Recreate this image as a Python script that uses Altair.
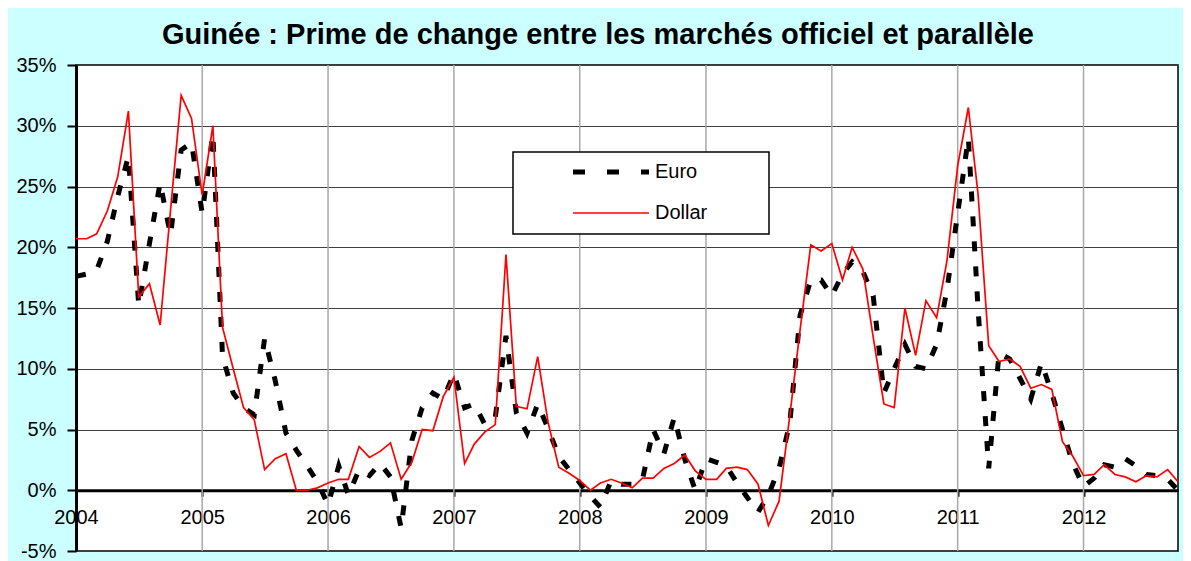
import altair as alt
import pandas as pd

# ---------------- data ----------------
months = pd.date_range("2004-01-01", periods=106, freq="MS")

euro = [
    17.6, 17.8, 18.1, 20.5, 24.2, 27.5, 15.2, 20.3, 25.3, 21.0,
    28.0, 28.6, 22.8, 29.3, 11.0, 8.0, 6.8, 6.2, 12.5, 9.0,
    4.7, 3.3, 2.0, 0.7, -1.2, 2.0, -0.4, 1.7, 1.2, 2.2,
    1.1, -3.1, 4.1, 6.8, 8.0, 7.5, 9.6, 6.8, 7.1, 5.4,
    6.0, 12.7, 6.4, 4.7, 7.1, 5.1, 2.8, 1.7, 0.6, -0.5,
    -1.4, 0.8, 0.5, 0.5, 0.9, 5.0, 3.0, 6.0, 2.5, 0.0,
    2.6, 2.3, 2.0, 0.6, -0.6, -1.8, -0.4, 1.8, 5.5, 14.4,
    17.3, 17.3, 16.0, 17.8, 18.8, 18.0, 16.0, 8.0, 10.0, 12.0,
    10.2, 10.0, 12.0, 16.5, 22.8, 29.0, 15.0, 1.8, 11.3, 10.8,
    9.2, 7.5, 10.5, 8.0, 5.0, 2.2, 0.3, 1.0, 2.1, 1.9,
    2.6, 2.0, 1.3, 1.2, 0.9, 0.0,
]

dollar = [
    20.7, 20.7, 21.1, 23.0, 25.8, 31.2, 15.9, 17.0, 13.6, 23.0,
    32.5, 30.6, 24.3, 30.0, 13.4, 10.0, 6.8, 5.8, 1.7, 2.6,
    3.0, 0.0, 0.0, 0.2, 0.6, 0.9, 0.9, 3.6, 2.7, 3.2,
    3.9, 0.9, 2.3, 5.0, 4.9, 7.7, 9.3, 2.2, 3.8, 4.8,
    5.4, 19.4, 6.9, 6.7, 11.0, 5.6, 1.9, 1.4, 0.8, 0.0,
    0.6, 0.9, 0.6, 0.2, 1.0, 1.0, 1.8, 2.2, 2.9, 1.6,
    0.9, 0.9, 1.8, 1.9, 1.7, 0.5, -2.9, -0.9, 6.1, 13.2,
    20.2, 19.7, 20.3, 17.3, 20.0, 18.2, 12.6, 7.1, 6.8, 15.0,
    11.1, 15.6, 14.2, 18.9, 26.7, 31.5, 24.4, 11.9, 10.6, 10.8,
    10.2, 8.4, 8.7, 8.3, 4.0, 2.8, 1.2, 1.3, 2.1, 1.3,
    1.1, 0.7, 1.2, 1.1, 1.7, 0.7,
]

series_names = ["Euro", "Dollar"]
grid_years = ["2005-01-01", "2006-01-01", "2007-01-01", "2008-01-01",
              "2009-01-01", "2010-01-01", "2011-01-01", "2012-01-01"]
label_years = list(range(2004, 2013))
y_ticks = [-0.05, 0.0, 0.05, 0.10, 0.15, 0.20, 0.25, 0.30, 0.35]
title_text = "Guinée : Prime de change entre les marchés officiel et parallèle"

df_euro = pd.DataFrame({"date": months, "value": [v / 100 for v in euro]})
df_dollar = pd.DataFrame({"date": months, "value": [v / 100 for v in dollar]})
df_grid = pd.DataFrame({"yr": pd.to_datetime(grid_years)})
dummy = pd.DataFrame({"k": [0]})

# ---------------- layout ----------------
W, H = 1102, 486
FONT = "Liberation Sans"
zero_offset = -(H * 0.05 / 0.40)

xscale = alt.Scale(domain=[alt.DateTime(year=2004, month=1, date=1),
                           alt.DateTime(year=2012, month=10, date=1)], nice=False)
yscale = alt.Scale(domain=[-0.05, 0.35], nice=False, zero=False)

xaxis = alt.Axis(
    values=[alt.DateTime(year=y, month=1, date=1) for y in label_years],
    format="%Y", title=None, grid=False, offset=zero_offset,
    domainColor="black", domainWidth=3, tickColor="black", tickWidth=2,
    tickSize=6, labelFont=FONT, labelFontSize=20, labelColor="black",
    labelPadding=11, labelFlush=False, labelOverlap=False,
)
yaxis = alt.Axis(
    values=y_ticks, labelExpr="round(datum.value*100) + '%'", title=None,
    grid=True, gridColor="#404040", gridWidth=1.2,
    domainColor="black", domainWidth=3, tickColor="black", tickWidth=2,
    tickSize=9, labelPadding=11, labelFont=FONT, labelFontSize=20,
    labelColor="black",
)

vgrid = alt.Chart(df_grid).mark_rule(color="#a8a8a8", strokeWidth=1.5).encode(
    x=alt.X("yr:T", scale=xscale, axis=xaxis)
)

euro_line = alt.Chart(df_euro).mark_line(
    color="black", strokeWidth=5, strokeDash=[10, 15], strokeCap="butt"
).encode(
    x=alt.X("date:T", scale=xscale, axis=xaxis),
    y=alt.Y("value:Q", scale=yscale, axis=yaxis),
)

dollar_line = alt.Chart(df_dollar).mark_line(color="#ff0000", strokeWidth=1.7).encode(
    x=alt.X("date:T", scale=xscale, axis=xaxis),
    y=alt.Y("value:Q", scale=yscale, axis=yaxis),
)

# legend box (decoration)
leg_box = alt.Chart(dummy).mark_rect(fill="white", stroke="black", strokeWidth=1.5).encode(
    x=alt.value(437), x2=alt.value(693), y=alt.value(87), y2=alt.value(169)
)
leg_euro = alt.Chart(dummy).mark_rule(
    color="black", strokeWidth=5, strokeDash=[12, 22], strokeCap="butt"
).encode(x=alt.value(497), x2=alt.value(573), y=alt.value(107))
leg_dollar = alt.Chart(dummy).mark_rule(color="#ff0000", strokeWidth=1.7).encode(
    x=alt.value(497), x2=alt.value(573), y=alt.value(148)
)
leg_t1 = alt.Chart(dummy).mark_text(
    align="left", baseline="middle", font=FONT, fontSize=20, color="black"
).encode(x=alt.value(579), y=alt.value(107), text=alt.value(series_names[0]))
leg_t2 = alt.Chart(dummy).mark_text(
    align="left", baseline="middle", font=FONT, fontSize=20, color="black"
).encode(x=alt.value(579), y=alt.value(148), text=alt.value(series_names[1]))

chart = alt.layer(
    vgrid, euro_line, dollar_line, leg_box, leg_euro, leg_dollar, leg_t1, leg_t2
).properties(
    width=W, height=H,
    padding={"left": 68, "top": 57, "right": 5, "bottom": 10},
    autosize=alt.AutoSizeParams(type="none"),
    background="#CCFFFF",
    title=alt.TitleParams(
        text=title_text, font=FONT, fontSize=29, fontWeight="bold",
        color="black", anchor="middle", frame="bounds", offset=-18,
        baseline="alphabetic", dx=-4,
    ),
).configure_view(fill="white", stroke="black", strokeWidth=1.5)

chart.save("out.html", embed_options={"renderer": "svg", "actions": False})
